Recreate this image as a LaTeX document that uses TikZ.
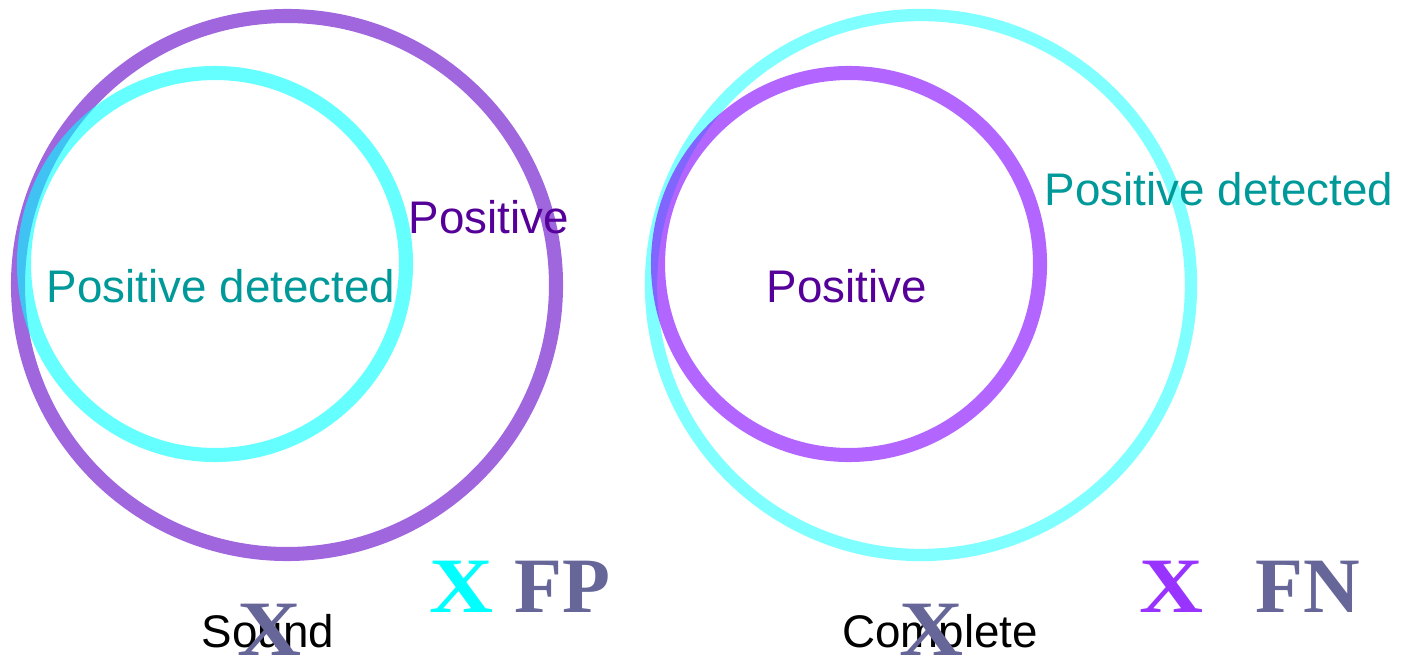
\documentclass[tikz,border=0pt]{standalone}
\usepackage{fontspec}
\setmainfont{Liberation Sans}
\newfontfamily\serifx{Liberation Serif}

\definecolor{lpurple}{RGB}{96,0,200}
\definecolor{rpurple}{RGB}{128,0,255}
\definecolor{cyanring}{RGB}{0,255,255}
\definecolor{postext}{RGB}{85,0,153}
\definecolor{dettext}{RGB}{0,153,153}
\definecolor{xgray}{RGB}{102,102,153}
\definecolor{xpurple}{RGB}{153,51,255}

\newcommand{\wideX}{\scalebox{1.13}[1]{X}}

\begin{document}
\begin{tikzpicture}[
    x=0.01cm, y=-0.01cm,
    every node/.style={
        inner sep=0pt,
        anchor=base,
        font=\fontsize{13}{15}\selectfont,
    },
    ring/.style={line width=4pt, draw opacity=0.6},
    bigx/.style={font=\serifx\bfseries\fontsize{22.3}{24}\selectfont},
]
\useasboundingbox (0,0) rectangle (1407,655);
\clip (0,0) rectangle (1407,655);

% sound
\draw[ring, lpurple] (287,285) circle (269);
\draw[ring, cyanring] (215,264) circle (191);

% complete
\draw[ring, cyanring, line width=3.5pt, draw opacity=0.5] (921,285) circle (270);
\draw[ring, rpurple] (849,264) circle (191);

\node[text=dettext] (ldet) at (221,302) {Positive detected};
\node[text=postext] (lpos) at (489,234) {Positive};
\node[text=postext] (rpos) at (847,302) {Positive};
\node[text=dettext] (rdet) at (1219,206) {Positive detected};

\node (sound) at (268,647) {Sound};
\node (complete) at (940,647) {Complete};
\node[bigx, text=xgray] (soundx) at (269,655) {\wideX};
\node[bigx, text=xgray] (completex) at (931,655) {\wideX};

\node[bigx, text=cyanring] (fpx) at (461,612) {\wideX};
\node[bigx, text=xgray] (fp) at (562,612) {FP};
\node[bigx, text=xpurple] (fnx) at (1171,612) {\wideX};
\node[bigx, text=xgray] (fn) at (1308,612) {FN};

\end{tikzpicture}
\end{document}
